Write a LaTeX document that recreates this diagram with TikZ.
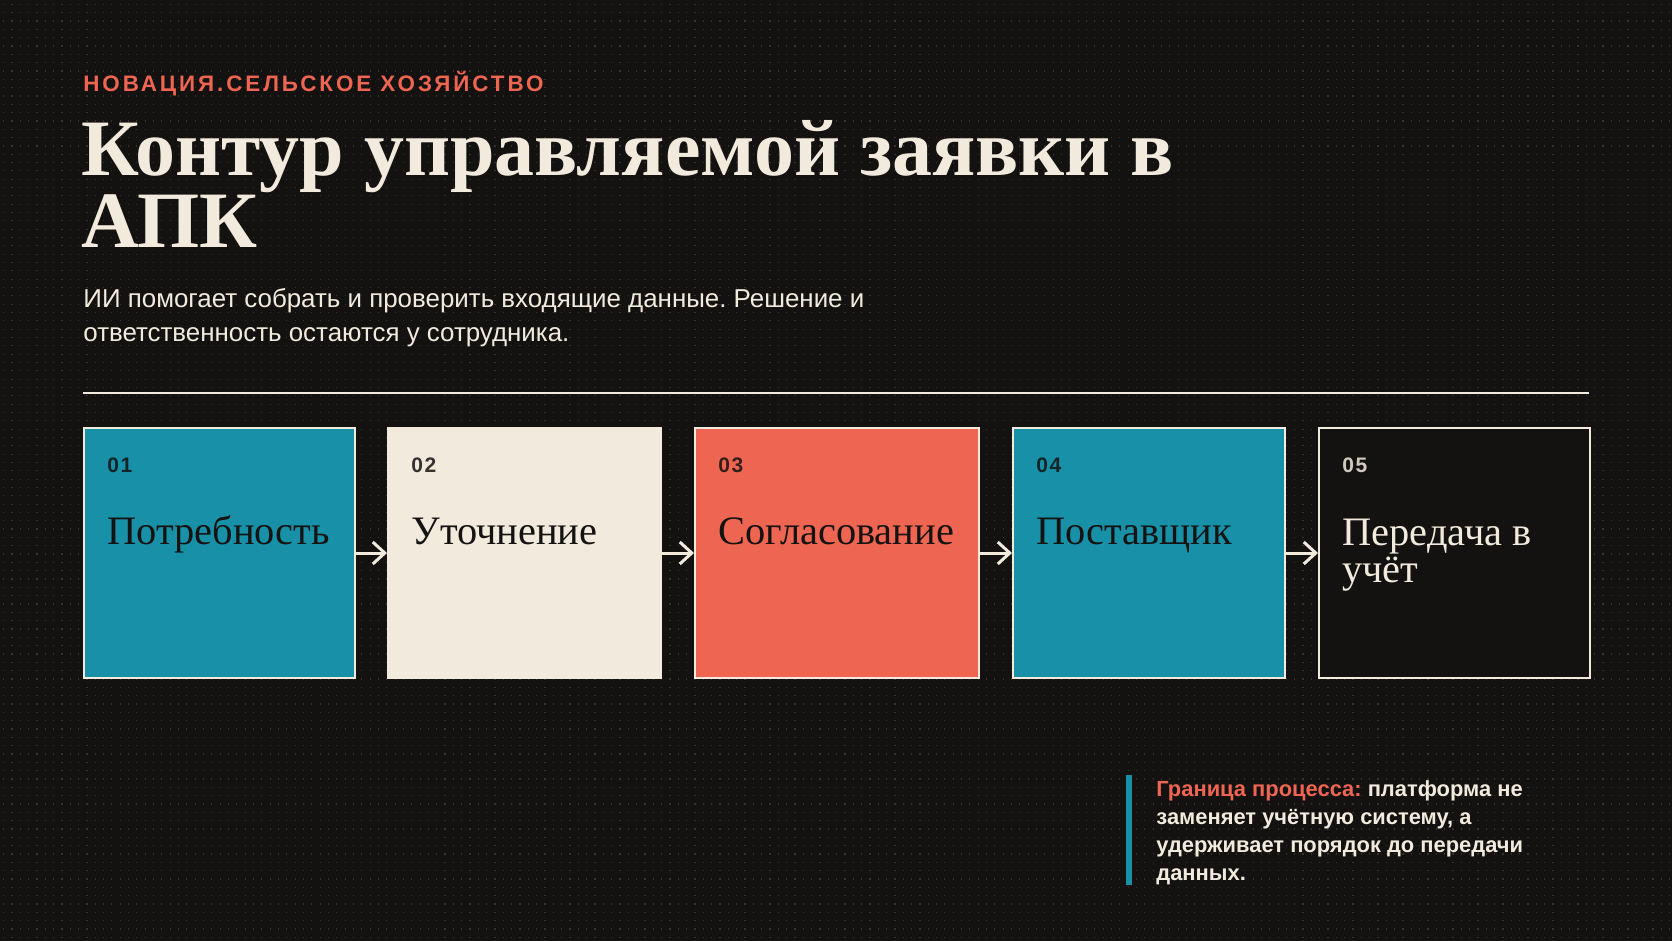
\documentclass[tikz,border=0pt]{standalone}
\usepackage{fontspec}
\setmainfont{Liberation Serif}
\setsansfont{Liberation Sans}
\newfontfamily\spacedsans[LetterSpace=13]{Liberation Sans}
\newfontfamily\numsans[LetterSpace=8]{Liberation Sans}
\usetikzlibrary{arrows.meta,positioning}
\frenchspacing

\definecolor{bg}{HTML}{131210}
\definecolor{cream}{HTML}{F2EADD}
\definecolor{teal}{HTML}{1790A8}
\definecolor{coral}{HTML}{EE6552}
\definecolor{ink}{HTML}{141311}
\definecolor{dotgray}{HTML}{35332F}

\tikzset{
  stepbox/.style={draw=cream, line width=1pt, inner sep=0pt, anchor=north west,
    minimum height=125pt},
  stepnum/.style={font=\numsans\bfseries\fontsize{10.5}{12}\selectfont,
    anchor=base west, inner sep=0pt, text opacity=0.85},
  steplabel/.style={font=\fontsize{20.2}{18.5}\selectfont, anchor=base west,
    inner sep=0pt, align=left},
  flow/.style={cream, line width=1.5pt, -{Straight Barb[length=6pt,width=11pt]}}
}

\begin{document}
\begin{tikzpicture}[x=0.5pt,y=-0.5pt]
  \fill[bg] (0,0) rectangle (1672,941);
  \useasboundingbox (0,0) rectangle (1672,941);

  % Punktraster
  \foreach \i in {0,...,112}
    \draw[dotgray, line width=0.6pt, dash pattern=on 0.6pt off 3.565pt]
      (3,4.3+8.33*\i) -- (1672,4.3+8.33*\i);

  % Kopf (base = letzte Zeile)
  \node[anchor=base west, inner sep=0pt, text=coral,
        font=\spacedsans\bfseries\fontsize{11.2}{13}\selectfont] (kicker) at (83,92)
    {НОВАЦИЯ.СЕЛЬСКОЕ ХОЗЯЙСТВО};
  \node[anchor=base west, inner sep=0pt, text=cream, align=left,
        font=\bfseries\fontsize{40}{34.5}\selectfont] (title) at (81,248)
    {Контур управляемой заявки в\\АПК};
  \node[anchor=base west, inner sep=0pt, text=cream, align=left,
        font=\sffamily\fontsize{12.95}{17}\selectfont] (lead) at (83,342)
    {ИИ помогает собрать и проверить входящие данные. Решение и\\ответственность остаются у сотрудника.};

  \draw[cream, line width=0.75pt] (83,393) -- (1589,393);

  % Schritte
  \node[stepbox, fill=teal, minimum width=135.5pt] (box1) at (83,427) {};
  \node[stepbox, fill=cream, minimum width=136.5pt] (box2) at (387,427) {};
  \node[stepbox, fill=coral, minimum width=142pt] (box3) at (694,427) {};
  \node[stepbox, fill=teal, minimum width=136pt] (box4) at (1012,427) {};
  \node[stepbox, fill=bg, minimum width=135.5pt] (box5) at (1318,427) {};

  \node[stepnum, text=ink] at ([shift={(24,46)}]box1.north west) {01};
  \node[stepnum, text=ink] at ([shift={(24,46)}]box2.north west) {02};
  \node[stepnum, text=ink] at ([shift={(24,46)}]box3.north west) {03};
  \node[stepnum, text=ink] at ([shift={(24,46)}]box4.north west) {04};
  \node[stepnum, text=cream] at ([shift={(24,46)}]box5.north west) {05};

  \node[steplabel, text=ink] at ([shift={(24,118)}]box1.north west) {Потребность};
  \node[steplabel, text=ink] at ([shift={(24,118)}]box2.north west) {Уточнение};
  \node[steplabel, text=ink] at ([shift={(24,118)}]box3.north west) {Согласование};
  \node[steplabel, text=ink] at ([shift={(24,118)}]box4.north west) {Поставщик};
  \node[steplabel, text=cream] at ([shift={(24,155)}]box5.north west) {Передача в\\учёт};

  \draw[flow] (box1.east) -- (box2.west);
  \draw[flow] (box2.east) -- (box3.west);
  \draw[flow] (box3.east) -- (box4.west);
  \draw[flow] (box4.east) -- (box5.west);

  % Hinweis
  \fill[teal] (1126,775) rectangle (1132,885);
  \node[anchor=base west, inner sep=0pt, text=cream, align=left,
        font=\sffamily\bfseries\fontsize{10.95}{13.9}\selectfont] (note) at (1156,880)
    {\textcolor{coral}{Граница процесса:} платформа не\\заменяет учётную систему, а\\удерживает порядок до передачи\\данных.};
\end{tikzpicture}
\end{document}
